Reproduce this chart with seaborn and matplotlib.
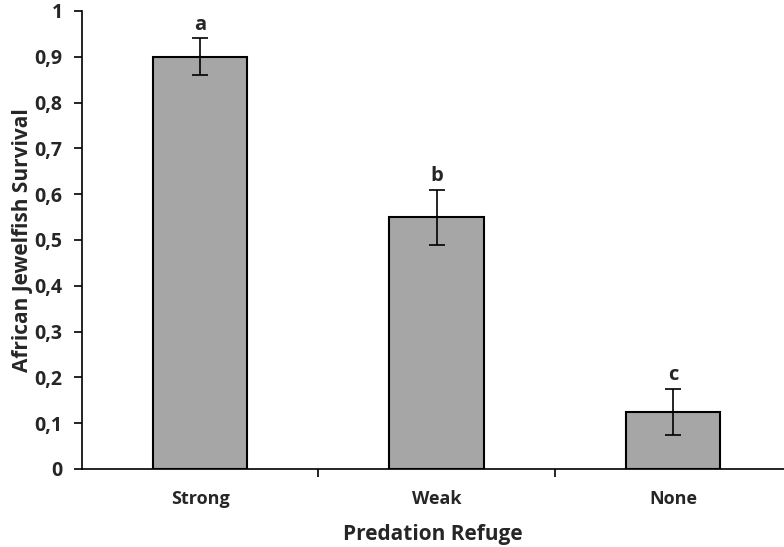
import numpy as np
import pandas as pd
import seaborn as sns
import matplotlib.pyplot as plt
from matplotlib.ticker import FixedLocator, FuncFormatter

refuge = ['Strong', 'Weak', 'None']
survival = [0.90, 0.55, 0.125]
sem = [0.04, 0.06, 0.05]
letters = ['a', 'b', 'c']

df = pd.DataFrame({'refuge': refuge, 'survival': survival})

sns.set_style('white')
plt.rcParams['font.family'] = ['Open Sans', 'DejaVu Sans']
plt.rcParams['font.weight'] = 'bold'

fig = plt.figure(figsize=(7.84, 5.47), dpi=100)
ax = fig.add_axes([0.1046, 0.1426, 0.8954, 0.8374])

sns.barplot(data=df, x='refuge', y='survival', color='#a6a6a6', saturation=1,
            edgecolor='black', linewidth=1.5, width=0.4, ax=ax)

xpos = np.arange(len(refuge))
ax.errorbar(xpos, survival, yerr=sem, fmt='none', ecolor='black',
            elinewidth=1.2, capsize=6, capthick=1.2)

for x, v, e, l in zip(xpos, survival, sem, letters):
    ax.text(x, v + e + 0.008, l, ha='center', va='bottom', fontsize=14.5, fontweight='bold')

ax.set_ylim(0, 1)
ax.set_xlim(-0.5, 2.47)
ax.set_yticks(np.arange(0, 1.01, 0.1))
ax.yaxis.set_major_formatter(FuncFormatter(lambda v, p: '0' if v == 0 else ('1' if abs(v - 1) < 1e-9 else f'{v:.1f}'.replace('.', ','))))
ax.xaxis.set_minor_locator(FixedLocator([0.5, 1.5, 2.5]))
ax.tick_params(axis='x', which='major', bottom=False, length=0, pad=15, labelsize=13)
ax.tick_params(axis='x', which='minor', bottom=True, length=6, width=1.2, direction='out', color='black')
ax.tick_params(axis='y', left=True, length=6, width=1.2, direction='out', labelsize=14, pad=8, color='black')
for lab in ax.get_xticklabels() + ax.get_yticklabels():
    lab.set_fontweight('bold')

sns.despine(ax=ax, top=True, right=True)
for s in ['left', 'bottom']:
    ax.spines[s].set_color('black')
    ax.spines[s].set_linewidth(1.2)

ax.set_xlabel('Predation Refuge', fontsize=15, fontweight='bold', labelpad=12)
ax.set_ylabel('African Jewelfish Survival', fontsize=15, fontweight='bold', labelpad=1)

fig.savefig('out.png', dpi=100)
